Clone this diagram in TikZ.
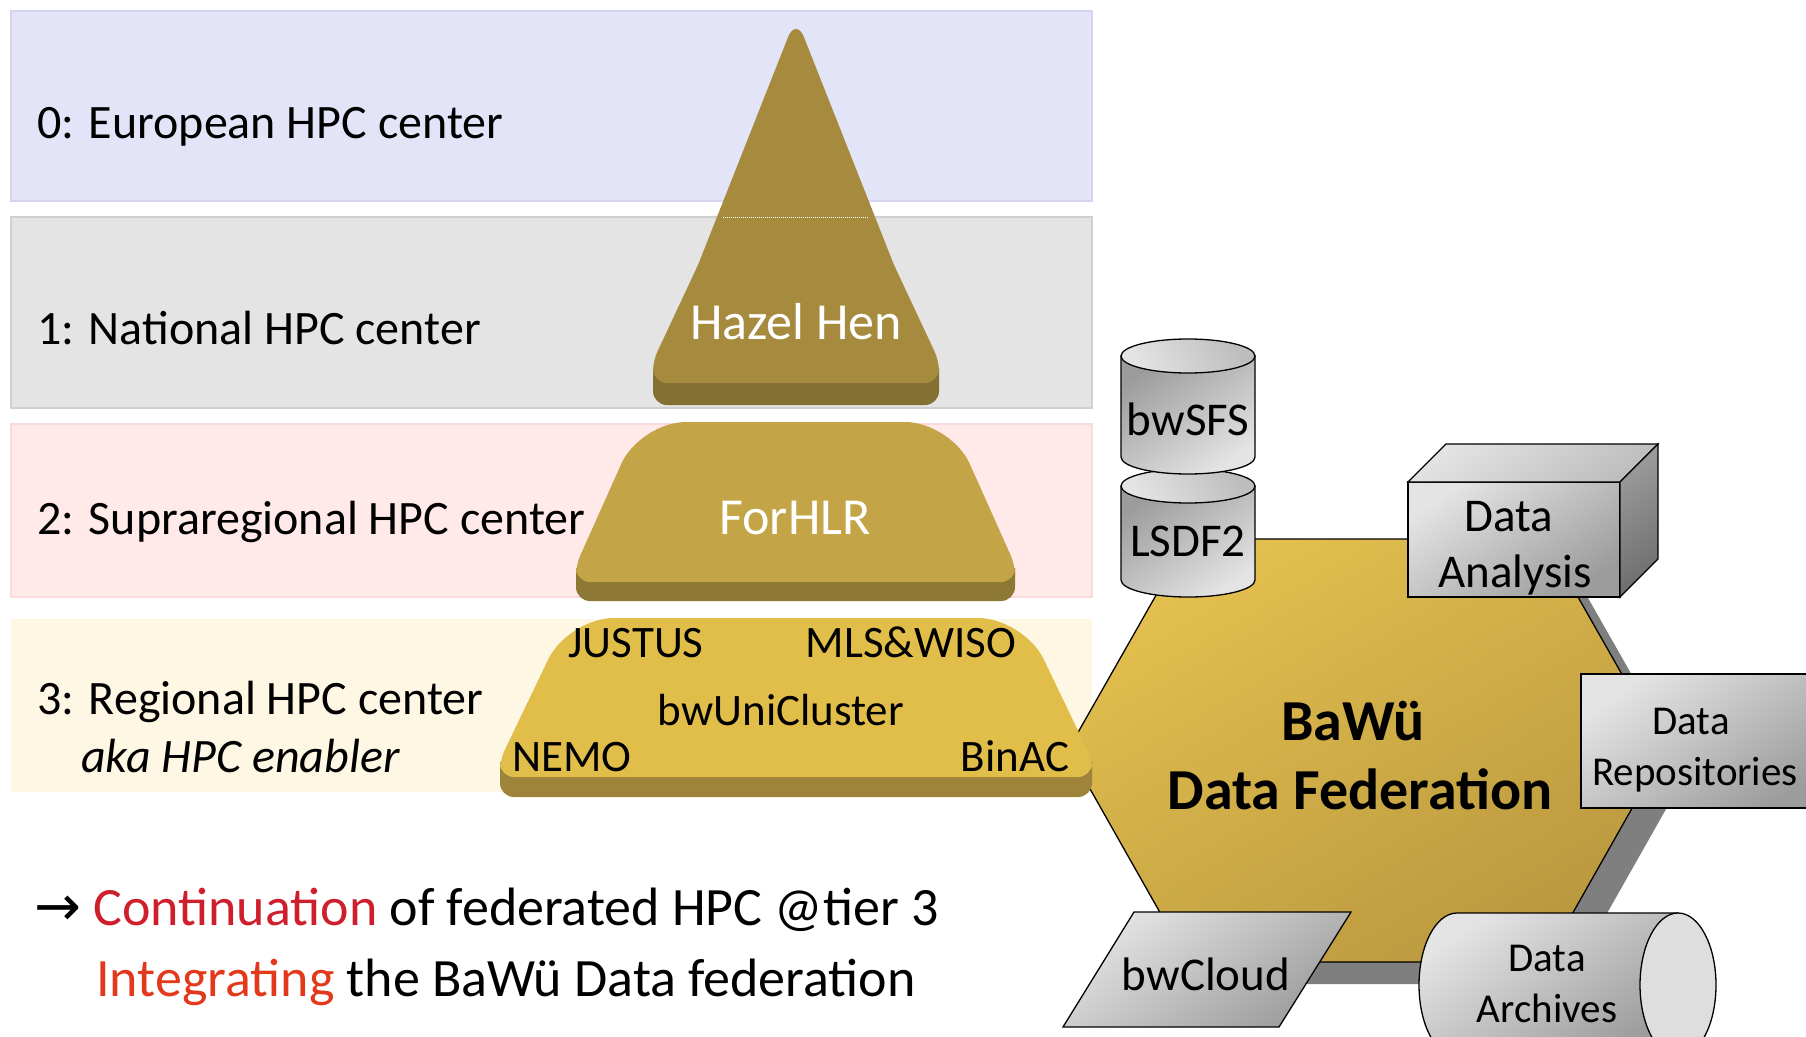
\documentclass[tikz,border=0pt]{standalone}
\usepackage{fontspec}
\setmainfont{Carlito}
\newfontfamily\arrowfont{DejaVu Sans}
\definecolor{bandZero}{HTML}{E4E4F8}
\definecolor{bandZeroLine}{HTML}{D4D4F0}
\definecolor{bandOne}{HTML}{E4E4E4}
\definecolor{bandOneLine}{HTML}{D0D0D0}
\definecolor{bandTwo}{HTML}{FFE9E9}
\definecolor{bandTwoLine}{HTML}{FADADA}
\definecolor{bandThree}{HTML}{FEF7E3}
\definecolor{hazelFace}{HTML}{A68B3E}
\definecolor{hazelDark}{HTML}{857033}
\definecolor{forFace}{HTML}{C3A446}
\definecolor{forDark}{HTML}{8E7835}
\definecolor{regFace}{HTML}{E1BE4A}
\definecolor{regDark}{HTML}{9E833A}
\definecolor{hexLight}{HTML}{E3C04E}
\definecolor{hexDeep}{HTML}{BA983F}
\definecolor{hexShadow}{HTML}{7F7F7F}
\definecolor{greyLight}{HTML}{E4E4E4}
\definecolor{greyMid}{HTML}{BDBDBD}
\definecolor{greyDark}{HTML}{9C9C9C}
\definecolor{greySide}{HTML}{6E6E6E}
\definecolor{contRed}{HTML}{CF1F2D}
\definecolor{integRed}{HTML}{E2381C}

\begin{document}
\begin{tikzpicture}[x=1pt,y=-1pt,
  tier/.style={font=\fontsize{48}{56}\selectfont,anchor=base west,inner sep=0pt},
  topname/.style={font=\fontsize{52}{60}\selectfont,text=white,anchor=base,inner sep=0pt},
  cluster/.style={font=\fontsize{45}{52}\selectfont,anchor=base,inner sep=0pt},
  store/.style={font=\fontsize{47}{54}\selectfont,anchor=base,inner sep=0pt},
  storesmall/.style={font=\fontsize{41}{48}\selectfont,anchor=base,inner sep=0pt},
  fedname/.style={font=\fontsize{58}{66}\selectfont\bfseries,anchor=base,inner sep=0pt},
  goal/.style={font=\fontsize{54}{62}\selectfont,anchor=base west,inner sep=0pt},
  greyshape/.style={draw=black,line width=1.3pt,top color=greyLight,bottom color=greyDark,shading angle=35},
  drum/.style={draw=black,line width=1.3pt,top color=greyDark,bottom color=greyLight,shading angle=35},
  greylight/.style={draw=black,line width=1.3pt,top color=greyMid,bottom color=greyLight,shading angle=-60}]
\useasboundingbox (0,0) rectangle (1806,1036);
\clip (0,0) rectangle (1806,1036);

\filldraw[fill=bandZero,draw=bandZeroLine,line width=1.5pt] (11,11) rectangle (1092,201);
\filldraw[fill=bandOne,draw=bandOneLine,line width=1.5pt] (11,217) rectangle (1092,408);
\filldraw[fill=bandTwo,draw=bandTwoLine,line width=1.5pt] (11,424) rectangle (1092,597);
\fill[bandThree] (11,619) rectangle (1092,792);

\fill[hexShadow] (1090,772) -- (1210,561) -- (1567,561) -- (1687,772) -- (1567,984) -- (1210,984) -- cycle;
\filldraw[draw=black,line width=1.3pt,top color=hexLight,bottom color=hexDeep,shading angle=30]
  (1068,750) -- (1188,539) -- (1545,539) -- (1665,750) -- (1545,962) -- (1188,962) -- cycle;

\fill[hazelDark] (653,368) [rounded corners=14pt] -- (653,405) -- (939,405) [sharp corners] -- (939,368) -- cycle;
\fill[hazelFace] (796,383) [rounded corners=14pt] -- (653,383) [rounded corners=10pt] -- (653,361) [rounded corners=6pt] -- (698,265)
  [rounded corners=22pt] -- (796,17) [rounded corners=6pt] -- (894,265) [rounded corners=10pt] -- (939,361)
  [rounded corners=14pt] -- (939,383) [sharp corners] -- cycle;
\draw[white,densely dotted,line width=1pt] (723,217) -- (868,217);
\node[topname] (hazel) at (796,339) {Hazel Hen};

\fill[forDark] (576,568) [rounded corners=14pt] -- (576,601) -- (1015,601) [sharp corners] -- (1015,568) -- cycle;
\fill[forFace] (795,582) [rounded corners=14pt] -- (576,582) [rounded corners=10pt] -- (576,565) [rounded corners=46pt] -- (640,422) -- (951,422)
  [rounded corners=10pt] -- (1015,565) [rounded corners=14pt] -- (1015,582) [sharp corners] -- cycle;
\node[topname] (forhlr) at (795,534) {ForHLR};

\fill[regDark] (500,762) [rounded corners=14pt] -- (500,797) -- (1092,797) [sharp corners] -- (1092,762) -- cycle;
\fill[regFace] (796,777) [rounded corners=14pt] -- (500,777) [rounded corners=10pt] -- (500,760) [rounded corners=46pt] -- (568,618) -- (1024,618)
  [rounded corners=10pt] -- (1092,760) [rounded corners=14pt] -- (1092,777) [sharp corners] -- cycle;
\node[cluster] (justus) at (636,657) {JUSTUS};
\node[cluster] (mlswiso) at (911,657) {MLS\&WISO};
\node[cluster] (unicluster) at (781,725) {bwUniCluster};
\node[cluster] (nemo) at (572,771) {NEMO};
\node[cluster] (binac) at (1015,771) {BinAC};

\node[fedname] (bawue) at (1353,740) {BaWü};
\node[fedname] (federation) at (1360,809) {Data Federation};

\draw[drum] (1121,486) -- (1121,580) arc (180:0:67 and 17) -- (1255,486) -- cycle;
\draw[greylight] (1188,486) ellipse (67 and 17);
\node[store] (lsdf) at (1188,556) {LSDF2};
\draw[drum] (1121,356) -- (1121,457) arc (180:0:67 and 17) -- (1255,356) -- cycle;
\draw[greylight] (1188,356) ellipse (67 and 17);
\node[store] (bwsfs) at (1188,435) {bwSFS};

\draw[greyshape] (1408,482) rectangle (1620,597);
\draw[draw=black,line width=1.3pt,top color=greyLight,bottom color=greyMid,shading angle=35]
  (1408,482) -- (1446,444) -- (1658,444) -- (1620,482) -- cycle;
\draw[draw=black,line width=1.3pt,top color=greyDark,bottom color=greySide,shading angle=35]
  (1620,482) -- (1658,444) -- (1658,559) -- (1620,597) -- cycle;
\node[store] (analysis1) at (1509,531) {Data};
\node[store] (analysis2) at (1515,587) {Analysis};

\draw[greyshape] (1581,674) rectangle (1830,808);
\node[storesmall] (repo1) at (1691,734) {Data};
\node[storesmall] (repo2) at (1695,785) {Repositories};

\draw[greyshape] (1134,912) -- (1351,912) -- (1279,1027) -- (1063,1027) -- cycle;
\node[store] (cloud) at (1206,990) {bwCloud};

\draw[greyshape] (1678,913) -- (1457,913) arc (270:90:38 and 72) -- (1678,1057) -- cycle;
\draw[draw=black,line width=1.3pt,fill=greyLight!85!greyMid] (1678,985) ellipse (38 and 72);
\node[storesmall] (archive1) at (1547,971) {Data};
\node[storesmall] (archive2) at (1547,1022) {Archives};

\node[tier] (tier0) at (37,138) {0: European HPC center};
\node[tier] (tier1) at (37,344) {1: National HPC center};
\node[tier] (tier2) at (37,534) {2: Supraregional HPC center};
\node[tier] (tier3) at (37,714) {3: Regional HPC center};
\node[tier,font=\fontsize{48}{56}\selectfont\itshape] (enabler) at (81,772) {aka HPC enabler};

\node[goal] (goal1) at (34,925)
  {{\arrowfont\fontsize{56}{62}\selectfont →}\ \textcolor{contRed}{Continuation} of federated HPC @tier 3};
\node[goal] (goal2) at (96,996)
  {\textcolor{integRed}{Integrating} the BaWü Data federation};
\end{tikzpicture}
\end{document}
